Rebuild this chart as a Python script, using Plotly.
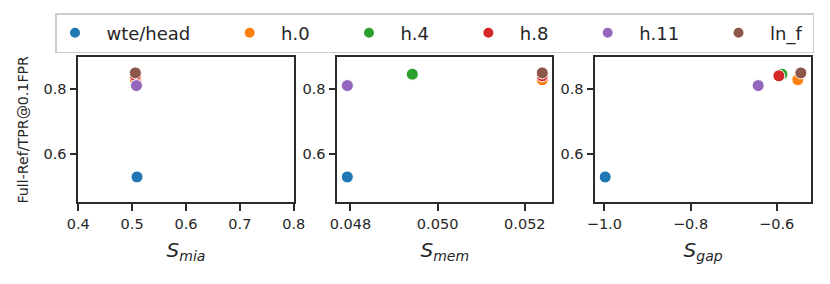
import plotly.graph_objects as go

layers = ["wte/head", "h.0", "h.4", "h.8", "h.11", "ln_f"]
colors = ["#1f77b4", "#ff7f0e", "#2ca02c", "#d62728", "#9467bd", "#8c564b"]
tpr = [0.530, 0.829, 0.846, 0.841, 0.811, 0.850]
s_mia = [0.509, 0.506, 0.506, 0.506, 0.508, 0.506]
s_mem = [0.04793, 0.0524, 0.04942, 0.0524, 0.04793, 0.0524]
s_gap = [-0.998, -0.551, -0.588, -0.595, -0.643, -0.544]

x_titles = ["<i>S<sub>mia</sub></i>", "<i>S<sub>mem</sub></i>", "<i>S<sub>gap</sub></i>"]
x_ranges = [[0.4, 0.8], [0.0477, 0.05263], [-1.021, -0.5204]]
x_ticks = [[0.4, 0.5, 0.6, 0.7, 0.8], [0.048, 0.050, 0.052], [-1.0, -0.8, -0.6]]
x_ticktext = [["0.4", "0.5", "0.6", "0.7", "0.8"], ["0.048", "0.050", "0.052"], ["\u22121.0", "\u22120.8", "\u22120.6"]]
y_ticks = [0.6, 0.8]
y_range = [0.452, 0.898]

FONT = "DejaVu Sans"
W, H = 830, 284
domains = [[78.3 / W, 293.7 / W], [337.3 / W, 552.3 / W], [595.3 / W, 811 / W]]
ydom = [1 - 202.3 / H, 1 - 57.3 / H]
NB = "\u00a0"

fig = go.Figure()
xs_all = [s_mia, s_mem, s_gap]
for p in range(3):
    for i, name in enumerate(layers):
        trail = NB * 6 if i < len(layers) - 1 else NB
        fig.add_trace(go.Scatter(
            x=[xs_all[p][i]], y=[tpr[i]], mode="markers", name=NB * 2 + name + trail,
            legendgroup=name, showlegend=(p == 0),
            marker=dict(color=colors[i], size=12, line=dict(color="white", width=1)),
            xaxis="x" if p == 0 else f"x{p+1}",
            yaxis="y" if p == 0 else f"y{p+1}",
        ))

axis_common = dict(showgrid=False, zeroline=False, showline=True, mirror=True,
                   linecolor="#2b2b2b", linewidth=1.6, ticks="outside", ticklen=7,
                   tickwidth=1.6, tickcolor="#2b2b2b", automargin=False,
                   tickfont=dict(family=FONT, size=14.5, color="#262626"))
layout = dict(
    width=W, height=H, margin=dict(l=0, r=0, t=0, b=0, pad=0, autoexpand=False),
    plot_bgcolor="white", paper_bgcolor="white",
    font=dict(family=FONT, color="#262626"),
    legend=dict(orientation="h", x=55 / W, y=1 - 13 / H, xanchor="left", yanchor="top",
                bordercolor="#cccccc", borderwidth=1.5, bgcolor="white",
                font=dict(family=FONT, size=18, color="#262626"),
                itemsizing="constant"),
)
for p in range(3):
    xk = "xaxis" if p == 0 else f"xaxis{p+1}"
    yk = "yaxis" if p == 0 else f"yaxis{p+1}"
    ya = "y" if p == 0 else f"y{p+1}"
    xa = "x" if p == 0 else f"x{p+1}"
    layout[xk] = dict(axis_common, domain=domains[p], range=x_ranges[p], anchor=ya,
                      tickvals=x_ticks[p], ticktext=x_ticktext[p],
                      title=dict(text=x_titles[p], font=dict(family=FONT, size=20, color="#262626"), standoff=12))
    yd = dict(axis_common, domain=ydom, range=y_range, anchor=xa,
              tickvals=y_ticks, ticktext=["0.6", "0.8"])
    if p == 0:
        yd["title"] = dict(text="Full-Ref/TPR@0.1FPR", font=dict(family=FONT, size=14.2, color="#262626"), standoff=12)
    layout[yk] = yd
fig.update_layout(**layout)
fig.write_html("out.html", config={"displayModeBar": False},
               post_script="document.body.style.margin='0px';")
